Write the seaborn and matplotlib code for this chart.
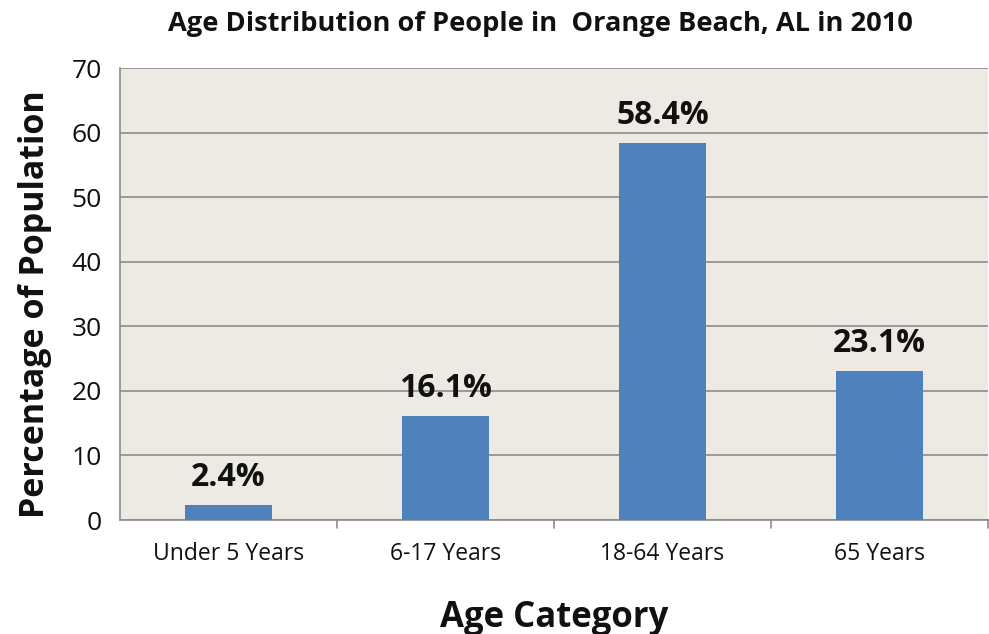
import matplotlib
matplotlib.use("Agg")
import matplotlib.pyplot as plt
import seaborn as sns
import pandas as pd

categories = ["Under 5 Years", "6-17 Years", "18-64 Years", "65 Years"]
values = [2.4, 16.1, 58.4, 23.1]
value_labels = ["2.4%", "16.1%", "58.4%", "23.1%"]
yticks = [0, 10, 20, 30, 40, 50, 60, 70]

sns.set_theme(style="white")
plt.rcParams['font.family'] = ['Open Sans', 'DejaVu Sans']

df = pd.DataFrame({"cat": categories, "val": values})

fig = plt.figure(figsize=(9.89, 6.34), dpi=100)
ax = fig.add_axes([120/989, 1-520/634, 1-120/989 - 1/989, (520-68)/634])
ax.set_facecolor("#ECEAE2")

sns.barplot(data=df, x="cat", y="val", color="#4F81BD", saturation=1, width=0.405,
            ax=ax, zorder=3, edgecolor="none", linewidth=0)

ax.set_ylim(0, 70)
ax.set_yticks(yticks)
ax.set_xlim(-0.5, 3.5)
ax.grid(axis="y", color="#8C8C8C", linewidth=1.2, zorder=0)
ax.set_axisbelow(True)

for s in ["top", "right"]:
    ax.spines[s].set_visible(False)
ax.spines["left"].set_color("#8C8C8C")
ax.spines["bottom"].set_color("#8C8C8C")
ax.spines["left"].set_linewidth(1.2)
ax.spines["bottom"].set_linewidth(1.2)

ax.set_xticks([0, 1, 2, 3])
ax.set_xticklabels(categories, fontsize=16.5, color="#111111")
ax.tick_params(axis="x", length=0, pad=16)
ax.tick_params(axis="y", length=0, pad=13, labelsize=19, labelcolor="#111111")
for xb in [0.5, 1.5, 2.5, 3.5]:
    ax.plot([xb, xb], [0, -1.2], color="#8C8C8C", lw=1.2, clip_on=False)

for i, (v, lab) in enumerate(zip(values, value_labels)):
    ax.text(i, v + 1.7, lab, ha="center", va="bottom", fontsize=23, fontweight="bold", color="#111111")

ax.set_xlabel("Age Category", fontsize=25, fontweight="bold", labelpad=24, color="#111111")
ax.set_ylabel("Percentage of Population", fontsize=24.5, fontweight="bold", labelpad=14, color="#111111")
ax.yaxis.label.set_y(0.478)
fig.text(0.546, 0.962, "Age Distribution of People in  Orange Beach, AL in 2010",
         ha="center", va="center", fontsize=19.6, fontweight="bold", color="#111111")

fig.savefig("out.png", dpi=100, facecolor="white")
